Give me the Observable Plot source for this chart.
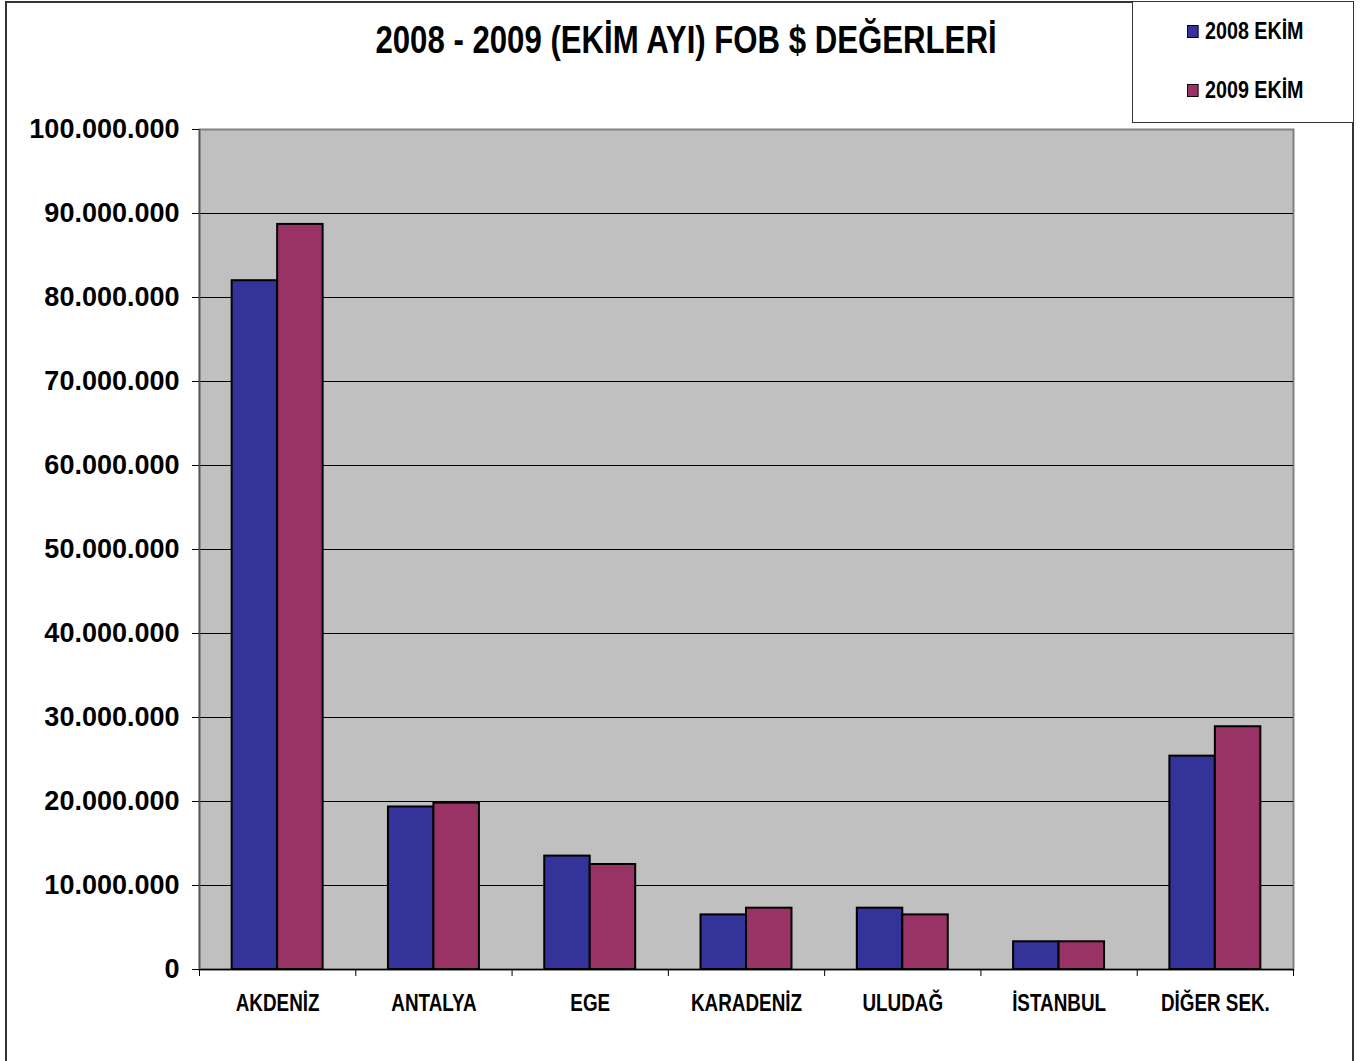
<!DOCTYPE html>
<html>
<head>
<meta charset="utf-8">
<script src="https://cdn.jsdelivr.net/npm/d3@7"></script>
<script src="https://cdn.jsdelivr.net/npm/@observablehq/plot@0.6"></script>
<style>
  html, body { margin: 0; padding: 0; background: #fff; }
  #wrap { position: relative; width: 1361px; height: 1061px; overflow: hidden; font-family: "Liberation Sans", Arial, sans-serif; color: #000; }
  #border { position: absolute; left: 5px; top: 1px; width: 1349px; height: 1100px; border: 2px solid #333; box-sizing: border-box; }
  #title { position: absolute; left: 286px; width: 800px; top: 17px; text-align: center; font-family: "Liberation Sans", Arial, sans-serif; font-weight: bold; font-size: 38px; line-height: 46px; white-space: nowrap; transform: scaleX(0.82); transform-origin: 400px 0; }
  #legend { position: absolute; left: 1132px; top: 1px; width: 222px; height: 122px; border: 1.5px solid #333; box-sizing: border-box; background: #fff; }
  .item { position: absolute; left: 54px; font-family: "Liberation Sans", Arial, sans-serif; font-weight: bold; font-size: 24px; line-height: 24px; white-space: nowrap; transform: scaleX(0.82); transform-origin: 0 0; }
  .sw { display: inline-block; width: 12px; height: 11px; border: 1.5px solid #000; margin-right: 8px; vertical-align: 1px; }
  #chart { position: absolute; left: 0; top: 100px; }
</style>
</head>
<body>
<div id="wrap">
  <div id="border"></div>
  <div id="title"></div>
  <div id="legend"></div>
  <div id="chart"></div>
</div>
<script>
const titleText = "2008 - 2009 (EKİM AYI) FOB $ DEĞERLERİ";
const categories = ["AKDENİZ", "ANTALYA", "EGE", "KARADENİZ", "ULUDAĞ", "İSTANBUL", "DİĞER SEK."];
const seriesNames = ["2008 EKİM", "2009 EKİM"];
const seriesColors = ["#333399", "#993366"];
const values2008 = [82000000, 19350000, 13500000, 6500000, 7300000, 3300000, 25400000];
const values2009 = [88700000, 19800000, 12500000, 7300000, 6500000, 3300000, 28900000];
const yTicks = [0, 10000000, 20000000, 30000000, 40000000, 50000000, 60000000, 70000000, 80000000, 90000000, 100000000];

document.getElementById("title").textContent = titleText;

const legend = document.getElementById("legend");
const legendTops = [17, 76];
seriesNames.forEach((name, i) => {
  const el = document.createElement("div");
  el.className = "item";
  el.style.top = legendTops[i] + "px";
  const sw = document.createElement("span");
  sw.className = "sw";
  sw.style.background = seriesColors[i];
  el.appendChild(sw);
  el.appendChild(document.createTextNode(name));
  legend.appendChild(el);
});

// grouped bar layout within each category slot (fraction of slot)
const barWidth = 0.291;
const groupStart = 0.5 - barWidth;
const rows = [];
categories.forEach((c, i) => {
  [values2008, values2009].forEach((vals, s) => {
    rows.push({
      category: c,
      series: seriesNames[s],
      value: vals[i],
      x1: i + groupStart + s * barWidth,
      x2: i + groupStart + (s + 1) * barWidth
    });
  });
});

const fmt = d3.formatLocale({decimal: ",", thousands: ".", grouping: [3], currency: ["", ""]}).format(",d");

const chart = Plot.plot({
  width: 1361,
  height: 961,
  marginLeft: 199,
  marginRight: 68,
  marginTop: 29,
  marginBottom: 92,
  style: {background: "transparent", color: "#000", overflow: "visible"},
  x: {domain: [0, categories.length], axis: null},
  y: {domain: [0, 100000000], axis: null},
  color: {domain: seriesNames, range: seriesColors},
  marks: [
    Plot.frame({fill: "#c0c0c0", stroke: "#808080", strokeWidth: 2}),
    Plot.ruleY(yTicks.filter(d => d > 0 && d < 100000000), {stroke: "#000", strokeWidth: 1}),
    Plot.rect(rows, {x1: "x1", x2: "x2", y1: 0, y2: "value", fill: "series", stroke: "#000", strokeWidth: 2}),
    Plot.ruleY([0], {stroke: "#000", strokeWidth: 1.5}),
    Plot.ruleX([0], {stroke: "#555", strokeWidth: 1.5}),
    Plot.axisY({
      ticks: yTicks, tickFormat: fmt, tickSize: 7, tickPadding: 13, label: null,
      fontSize: 27, fontWeight: "bold", fontFamily: "Liberation Sans, Arial, sans-serif"
    }),
    Plot.axisX({ticks: d3.range(categories.length + 1), tickFormat: () => "", tickSize: 7, label: null}),
    Plot.axisX({
      ticks: categories.map((c, i) => i + 0.5),
      tickFormat: d => categories[Math.floor(d)],
      tickSize: 0, tickPadding: 25, label: null, className: "xlab",
      fontSize: 23, fontWeight: "bold", fontFamily: "Liberation Sans, Arial, sans-serif"
    })
  ]
});
document.getElementById("chart").appendChild(chart);
// condense category labels horizontally (narrow bold look)
chart.querySelectorAll(".xlab text").forEach(t => {
  const tr = t.getAttribute("transform") || "";
  t.setAttribute("transform", tr + " scale(0.82,1)");
});
</script>
</body>
</html>
